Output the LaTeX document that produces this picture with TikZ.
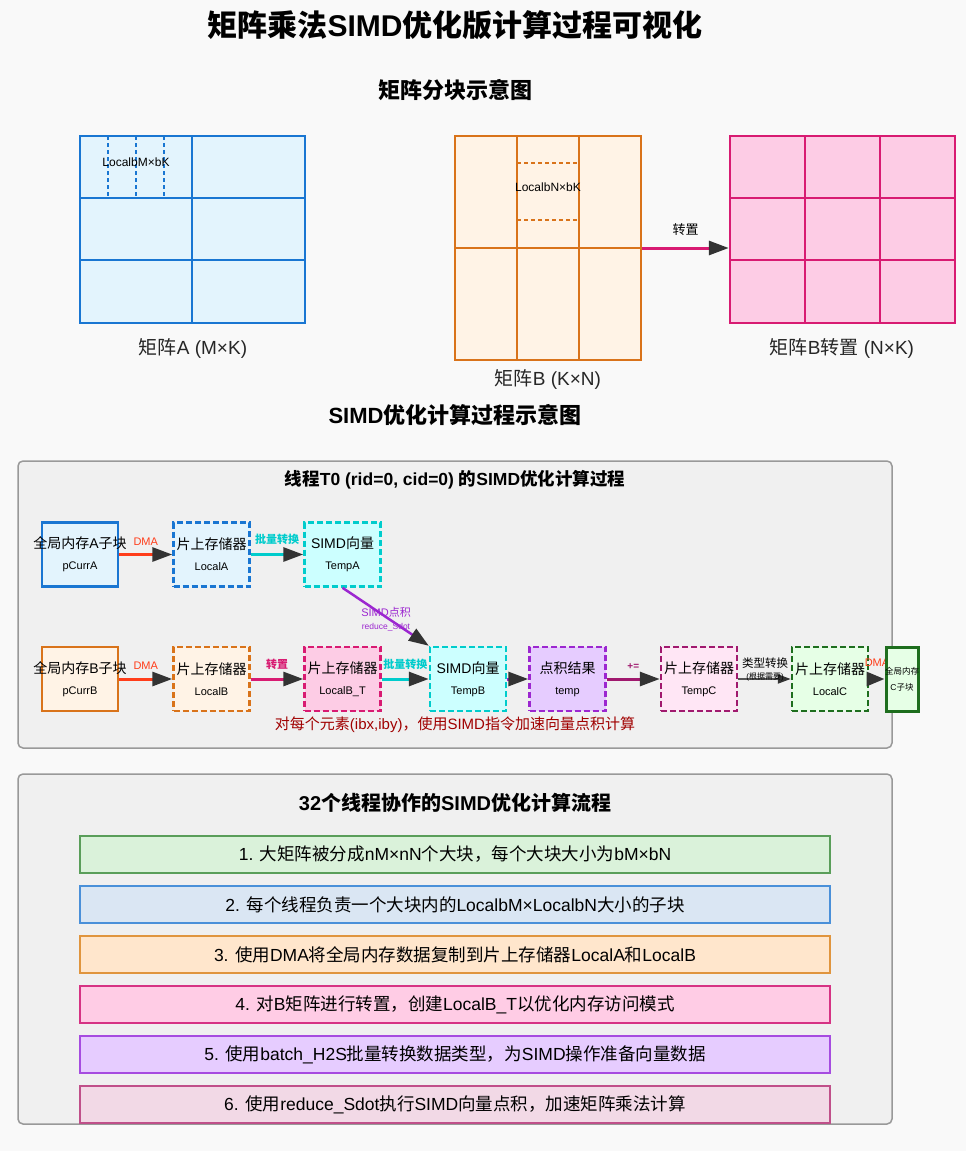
\documentclass[tikz,border=0pt]{standalone}
\usepackage{fontspec}
\setmainfont{Liberation Sans}
\newfontfamily\cjk{Noto Sans CJK SC}
% CJK characters switch to the CJK family automatically
\XeTeXinterchartokenstate=1
\newXeTeXintercharclass\cjkclass
\makeatletter
\count@="4E00
\loop\XeTeXcharclass\count@=\cjkclass\advance\count@ 1 \ifnum\count@<"A000 \repeat
\count@="3000
\loop\XeTeXcharclass\count@=\cjkclass\advance\count@ 1 \ifnum\count@<"3040 \repeat
\count@="FF00
\loop\XeTeXcharclass\count@=\cjkclass\advance\count@ 1 \ifnum\count@<"FF60 \repeat
\makeatother
\XeTeXinterchartoks 0 \cjkclass = {\cjk}
\XeTeXinterchartoks 4095 \cjkclass = {\cjk}
\XeTeXinterchartoks \cjkclass 0 = {\rmfamily}
\XeTeXinterchartoks \cjkclass 4095 = {\rmfamily}
\usepackage{tikz}
\usetikzlibrary{arrows.meta, positioning, calc}
\usepackage{xcolor}
\definecolor{sdblue}{HTML}{1976D2}
\definecolor{sdbluefill}{HTML}{E3F4FD}
\definecolor{sdorange}{HTML}{D9731A}
\definecolor{sdorangefill}{HTML}{FFF3E6}
\definecolor{sdpink}{HTML}{D81B72}
\definecolor{sdpinkfill}{HTML}{FDCCE5}
\definecolor{sdcyan}{HTML}{00CCCC}
\definecolor{sdcyanfill}{HTML}{CCFFFF}
\definecolor{sdpurple}{HTML}{9C27D0}
\definecolor{sdpurplefill}{HTML}{E6CCFF}
\definecolor{sdplum}{HTML}{A0196E}
\definecolor{sdplumfill}{HTML}{FFE6F5}
\definecolor{sdgreen}{HTML}{1E6E1E}
\definecolor{sdgreenfill}{HTML}{E6FFE6}
\definecolor{sdred}{HTML}{FF3D1A}
\definecolor{sdhead}{HTML}{333333}
\definecolor{sdgray}{HTML}{555555}
\definecolor{sdframe}{HTML}{999999}
\definecolor{sdpanel}{HTML}{F0F0F0}
\definecolor{sdpage}{HTML}{F9F9F9}
\definecolor{sdnote}{HTML}{A00000}
\definecolor{stepgreen}{HTML}{5A9E5A}
\definecolor{stepgreenfill}{HTML}{DAF2DA}
\definecolor{stepblue}{HTML}{4A90D9}
\definecolor{stepbluefill}{HTML}{DAE6F3}
\definecolor{steporange}{HTML}{E0953E}
\definecolor{steporangefill}{HTML}{FFE6CC}
\definecolor{steppink}{HTML}{D63384}
\definecolor{steppinkfill}{HTML}{FFCCE5}
\definecolor{steppurple}{HTML}{A64CE0}
\definecolor{steppurplefill}{HTML}{E6CCFF}
\definecolor{steprose}{HTML}{C0508A}
\definecolor{steprosefill}{HTML}{F2D9E6}

\begin{document}
\begin{tikzpicture}[x=1pt, y=-1pt,
  mat/.style={draw, line width=2.5pt, inner sep=0pt},
  gline/.style={line width=2.5pt},
  subline/.style={line width=1.2pt, dash pattern=on 4pt off 3pt},
  mcap/.style={font=\fontsize{19}{22}\selectfont, text=black!85},
  heading/.style={font=\bfseries\fontsize{22}{26}\selectfont},
  membox/.style={draw, line width=2.5pt, minimum width=76, minimum height=64,
                 inner sep=0pt, align=center, font=\fontsize{14}{17}\selectfont},
  dashbox/.style={membox, dash pattern=on 6pt off 3pt},
  flow/.style={line width=3pt, -{Triangle[length=20pt, width=14pt, color=sdhead]}},
  elbl/.style={font=\fontsize{11}{13}\selectfont, inner sep=1pt},
  panel/.style={draw=sdframe, line width=1.5pt, fill=sdpanel, rounded corners=5pt,
                minimum width=874, inner sep=0pt},
  stepbox/.style={line width=1.5pt, minimum width=750, minimum height=37,
                  inner sep=0pt, font=\fontsize{17.5}{20}\selectfont}
]
  % Page
  \fill[sdpage] (0,0) rectangle (966,1151);
  \useasboundingbox (0,0) rectangle (966,1151);

  % Titles
  \node[font=\bfseries\fontsize{30}{34}\selectfont] (title) at (455,25) {矩阵乘法SIMD优化版计算过程可视化};
  \node[heading] (hblock) at (455,90) {矩阵分块示意图};

  % Matrix A
  \node[mat, draw=sdblue, fill=sdbluefill, minimum width=225, minimum height=187] (matA) at (192.5,229.5) {};
  \draw[gline, sdblue] (192,136) -- (192,323) (80,198) -- (305,198) (80,260) -- (305,260);
  \foreach \x in {108,136,164} \draw[subline, sdblue] (\x,136) -- (\x,198);
  \node[font=\fontsize{12}{14}\selectfont] (locA) at (136,162) {LocalbM×bK};
  \node[mcap] (capA) at (193,348) {矩阵A (M×K)};

  % Matrix B
  \node[mat, draw=sdorange, fill=sdorangefill, minimum width=186, minimum height=224] (matB) at (548,248) {};
  \draw[gline, sdorange] (517,136) -- (517,360) (579,136) -- (579,360) (455,248) -- (641,248);
  \foreach \y in {163,220} \draw[subline, sdorange] (517,\y) -- (579,\y);
  \node[font=\fontsize{12}{14}\selectfont] (locB) at (548,187) {LocalbN×bK};
  \node[mcap] (capB) at (548,379) {矩阵B (K×N)};

  % Matrix B transposed
  \node[mat, draw=sdpink, fill=sdpinkfill, minimum width=225, minimum height=187] (matBT) at (842.5,229.5) {};
  \draw[gline, sdpink] (805,136) -- (805,323) (880,136) -- (880,323) (730,198) -- (955,198) (730,260) -- (955,260);
  \node[mcap] (capBT) at (842,348) {矩阵B转置 (N×K)};
  \draw[flow, sdpink] (matB.east) -- (matB.east -| matBT.west)
    node[midway, above=8pt, text=black, font=\fontsize{13}{15}\selectfont] (lblBT) {转置};

  \node[heading] (hsimd) at (455,415) {SIMD优化计算过程示意图};

  % Thread panel
  \node[panel, minimum height=287] (pan1) at (455,604.5) {};
  \node[font=\bfseries\fontsize{17.5}{20}\selectfont] (pan1t) at (455,480) {线程T0 (rid=0, cid=0) 的SIMD优化计算过程};

  % Row A
  \node[membox, draw=sdblue, fill=sdbluefill] (gA) at (80,554.5) {\makebox[0pt]{全局内存A子块}\\[4pt]{\fontsize{11}{13}\selectfont pCurrA}};
  \node[dashbox, draw=sdblue, fill=sdbluefill] (lA) at (211.5,554.5) {片上存储器\\[4pt]{\fontsize{11}{13}\selectfont LocalA}};
  \node[dashbox, draw=sdcyan, fill=sdcyanfill] (tA) at (342.5,554.5) {SIMD向量\\[4pt]{\fontsize{11}{13}\selectfont TempA}};

  % Row B
  \node[membox, draw=sdorange, fill=sdorangefill] (gB) at (80,679) {\makebox[0pt]{全局内存B子块}\\[4pt]{\fontsize{11}{13}\selectfont pCurrB}};
  \node[dashbox, draw=sdorange, fill=sdorangefill] (lB) at (211.5,679) {片上存储器\\[4pt]{\fontsize{11}{13}\selectfont LocalB}};
  \node[dashbox, draw=sdpink, fill=sdpinkfill] (lBT) at (342.5,679) {片上存储器\\[4pt]{\fontsize{11}{13}\selectfont LocalB\_T}};
  \node[dashbox, draw=sdcyan, fill=sdcyanfill] (tB) at (468,679) {SIMD向量\\[4pt]{\fontsize{11}{13}\selectfont TempB}};
  \node[dashbox, draw=sdpurple, fill=sdpurplefill] (temp) at (567.5,679) {点积结果\\[4pt]{\fontsize{11}{13}\selectfont temp}};
  \node[dashbox, draw=sdplum, fill=sdplumfill] (tC) at (699,679) {片上存储器\\[4pt]{\fontsize{11}{13}\selectfont TempC}};
  \node[dashbox, draw=sdgreen, fill=sdgreenfill] (lC) at (830,679) {片上存储器\\[4pt]{\fontsize{11}{13}\selectfont LocalC}};
  \node[elbl, text=sdred] (dmaC) at (877,663) {DMA};
  \node[membox, draw=sdgreen, fill=sdgreenfill, line width=3pt, minimum width=32, font=\fontsize{8.5}{10}\selectfont]
    (gC) at (902,679) {\makebox[0pt]{全局内存}\\[6pt]C子块};

  % Connectors
  \draw[flow, sdred] (gA) -- (lA) node[elbl, midway, above=7pt, text=sdred] (dmaA) {DMA};
  \draw[flow, sdcyan] (lA) -- (tA) node[elbl, midway, above=7pt, text=sdcyan, font=\bfseries\fontsize{11}{13}\selectfont] (cvtA) {批量转换};
  \draw[flow, sdpurple, line width=2.5pt] (tA.south) -- (tB.north west);
  \node[elbl, text=sdpurple] (dotl) at (386,612) {SIMD点积};
  \node[elbl, text=sdpurple, font=\fontsize{8.5}{10}\selectfont] (dotf) at (386,627) {reduce\_Sdot};
  \draw[flow, sdred] (gB) -- (lB) node[elbl, midway, above=7pt, text=sdred] (dmaB) {DMA};
  \draw[flow, sdpink] (lB) -- (lBT) node[elbl, midway, above=7pt, text=sdpink, font=\bfseries\fontsize{11}{13}\selectfont] (trB) {转置};
  \draw[flow, sdcyan] (lBT) -- (tB) node[elbl, midway, above=7pt, text=sdcyan, font=\bfseries\fontsize{11}{13}\selectfont] (cvtB) {批量转换};
  \draw[flow, sdpurple] (tB) -- (temp);
  \draw[flow, sdplum] (temp) -- (tC) node[elbl, midway, above=7pt, text=sdplum, font=\bfseries\fontsize{10}{12}\selectfont] (acc) {+=};
  \draw[line width=2pt, sdgray, -{Triangle[length=13pt, width=9pt, color=sdhead]}] (tC) -- (lC);
  \node[elbl, font=\fontsize{11.5}{13}\selectfont] (typl) at (765,663) {类型转换};
  \node[elbl, font=\fontsize{8}{9}\selectfont] (typn) at (765,677) {(根据需要)};
  \draw[line width=3pt, sdred, -{Triangle[length=18pt, width=14pt, color=sdhead]}] (lC) -- (gC);

  \node[font=\fontsize{15}{18}\selectfont, text=sdnote] (note) at (455,725) {对每个元素(ibx,iby)，使用SIMD指令加速向量点积计算};

  % Cooperation panel
  \node[panel, minimum height=350] (pan2) at (455,949) {};
  \node[font=\bfseries\fontsize{20}{24}\selectfont] (pan2t) at (455,803) {32个线程协作的SIMD优化计算流程};

  \node[stepbox, draw=stepgreen, fill=stepgreenfill] (s1) at (455,854.5) {1. 大矩阵被分成nM×nN个大块，每个大块大小为bM×bN};
  \node[stepbox, draw=stepblue, fill=stepbluefill] (s2) at (455,904.5) {2. 每个线程负责一个大块内的LocalbM×LocalbN大小的子块};
  \node[stepbox, draw=steporange, fill=steporangefill] (s3) at (455,954.5) {3. 使用DMA将全局内存数据复制到片上存储器LocalA和LocalB};
  \node[stepbox, draw=steppink, fill=steppinkfill] (s4) at (455,1004.5) {4. 对B矩阵进行转置，创建LocalB\_T以优化内存访问模式};
  \node[stepbox, draw=steppurple, fill=steppurplefill] (s5) at (455,1054.5) {5. 使用batch\_H2S批量转换数据类型，为SIMD操作准备向量数据};
  \node[stepbox, draw=steprose, fill=steprosefill] (s6) at (455,1104.5) {6. 使用reduce\_Sdot执行SIMD向量点积，加速矩阵乘法计算};
\end{tikzpicture}
\end{document}
